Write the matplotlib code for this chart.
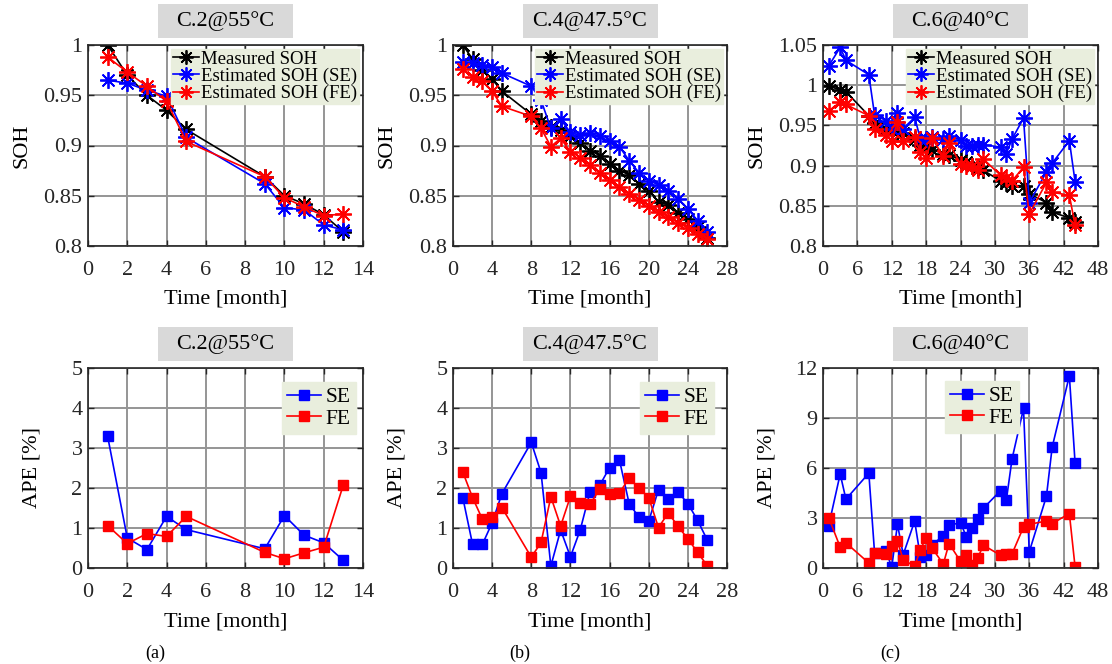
import matplotlib
matplotlib.use("Agg")
import matplotlib.pyplot as plt
from matplotlib.patches import Rectangle

plt.rcParams['font.family'] = ['Liberation Serif', 'DejaVu Serif']

# ---- data ----
c2_t = [1, 2, 3, 4, 5, 9, 10, 11, 12, 13]
c2_meas = [1.0, 0.970, 0.950, 0.935, 0.916, 0.869, 0.850, 0.842, 0.831, 0.814]
c2_se = [0.965, 0.962, 0.955, 0.949, 0.908, 0.862, 0.838, 0.836, 0.821, 0.816]
c2_fe = [0.988, 0.973, 0.959, 0.944, 0.904, 0.869, 0.848, 0.839, 0.830, 0.832]
c2_ape_se = [3.29, 0.75, 0.46, 1.29, 0.96, 0.48, 1.31, 0.82, 0.63, 0.19]
c2_ape_fe = [1.06, 0.61, 0.86, 0.79, 1.29, 0.39, 0.23, 0.38, 0.52, 2.08]

c4_t = [1, 2, 3, 4, 5, 8, 9, 10, 11, 12, 13, 14, 15, 16, 17, 18, 19, 20, 21,
        22, 23, 24, 25, 26]
c4_meas = [1.0, 0.986, 0.975, 0.966, 0.954, 0.931, 0.924, 0.918, 0.915, 0.909,
           0.902, 0.895, 0.890, 0.882, 0.875, 0.871, 0.862, 0.855, 0.844, 0.841,
           0.833, 0.827, 0.819, 0.808]
c4_se = [0.983, 0.982, 0.980, 0.978, 0.972, 0.959, 0.945, 0.917, 0.926, 0.913,
         0.910, 0.912, 0.909, 0.904, 0.899, 0.885, 0.873, 0.865, 0.861, 0.855,
         0.847, 0.837, 0.825, 0.814]
c4_fe = [0.976, 0.968, 0.964, 0.954, 0.939, 0.929, 0.917, 0.899, 0.907, 0.894,
         0.888, 0.881, 0.873, 0.866, 0.859, 0.852, 0.846, 0.840, 0.834, 0.829,
         0.823, 0.818, 0.812, 0.807]
c4_ape_se = [1.76, 0.59, 0.59, 1.13, 1.86, 3.14, 2.38, 0.05, 0.95, 0.28,
             0.95, 1.90, 2.07, 2.51, 2.71, 1.61, 1.27, 1.17, 1.96, 1.73,
             1.90, 1.61, 1.19, 0.69]
c4_ape_fe = [2.40, 1.76, 1.22, 1.27, 1.51, 0.27, 0.64, 1.78, 1.05, 1.79,
             1.62, 1.59, 1.98, 1.84, 1.88, 2.24, 2.00, 1.76, 1.01, 1.38,
             1.04, 0.73, 0.39, 0.05]

c6_t = [1, 3, 4, 8, 9, 11, 12, 13, 14, 16, 17, 18, 19, 21, 22, 24, 25, 26, 27,
        28, 31, 32, 33, 35, 36, 39, 40, 43, 44]
c6_meas = [0.999, 0.994, 0.992, 0.962, 0.953, 0.946, 0.944, 0.942, 0.940, 0.933,
           0.926, 0.923, 0.920, 0.915, 0.913, 0.907, 0.904, 0.900, 0.898, 0.894,
           0.881, 0.878, 0.875, 0.875, 0.865, 0.854, 0.842, 0.835, 0.830]
c6_se = [1.024, 1.047, 1.031, 1.013, 0.963, 0.956, 0.946, 0.965, 0.946, 0.960,
         0.933, 0.933, 0.935, 0.933, 0.937, 0.932, 0.925, 0.925, 0.926, 0.926,
         0.923, 0.915, 0.933, 0.959, 0.854, 0.892, 0.903, 0.931, 0.880]
c6_fe = [0.968, 0.979, 0.976, 0.962, 0.946, 0.938, 0.931, 0.954, 0.931, 0.935,
         0.917, 0.910, 0.934, 0.912, 0.928, 0.902, 0.899, 0.900, 0.894, 0.908,
         0.888, 0.885, 0.881, 0.898, 0.840, 0.879, 0.867, 0.863, 0.826]
c6_ape_se = [2.55, 5.64, 4.13, 5.69, 0.91, 1.00, 0.06, 2.62, 0.80, 2.82,
             0.64, 0.80, 1.41, 1.91, 2.56, 2.72, 1.89, 2.38, 2.92, 3.59,
             4.64, 4.07, 6.55, 9.57, 0.97, 4.30, 7.25, 11.53, 6.30]
c6_ape_fe = [3.02, 1.25, 1.51, 0.30, 0.91, 0.85, 1.31, 1.61, 0.50, 0.10,
             1.11, 1.81, 1.21, 0.24, 1.47, 0.40, 0.76, 0.20, 0.60, 1.37,
             0.76, 0.85, 0.85, 2.46, 2.62, 2.82, 2.66, 3.27, 0.06]

titles = ['C.2@55\u00b0C', 'C.4@47.5\u00b0C', 'C.6@40\u00b0C']
sublabels = ['(a)', '(b)', '(c)']
xticks = [[0, 2, 4, 6, 8, 10, 12, 14], [0, 4, 8, 12, 16, 20, 24, 28],
          [0, 6, 12, 18, 24, 30, 36, 42, 48]]
soh_ticks = [[0.8, 0.85, 0.9, 0.95, 1], [0.8, 0.85, 0.9, 0.95, 1],
             [0.8, 0.85, 0.9, 0.95, 1, 1.05]]
soh_ticklabels = [['0.8', '0.85', '0.9', '0.95', '1'],
                  ['0.8', '0.85', '0.9', '0.95', '1'],
                  ['0.8', '0.85', '0.9', '0.95', '1', '1.05']]
ape_ticks = [[0, 1, 2, 3, 4, 5], [0, 1, 2, 3, 4, 5], [0, 3, 6, 9, 12]]

W, H = 1112, 664
LEG_BG = '#e9eedd'
GRID_C = '#959595'
AST = (8, 2, 0)  # matlab style asterisk


def px_axes(fig, x0, y0, x1, y1):
    # pixel box (top-left origin) -> figure fraction
    return fig.add_axes([x0 / W, 1 - y1 / H, (x1 - x0) / W, (y1 - y0) / H])


def style_axes(ax, xt, xmax):
    ax.set_xlim(0, xmax)
    ax.set_xticks(xt)
    ax.grid(True, color=GRID_C, linewidth=1.4)
    ax.set_axisbelow(True)
    for s in ax.spines.values():
        s.set_color('#262626')
        s.set_linewidth(1.2)
    ax.tick_params(direction='in', top=True, right=True, labelsize=16,
                   length=4, width=1, colors='#262626')
    ax.tick_params(axis='x', pad=11)
    ax.tick_params(axis='y', pad=4)
    ax.set_xlabel('Time [month]', fontsize=16, labelpad=7)


def title_box(fig, xc, ytop, text):
    bw, bh = 135, 34
    fig.patches.append(Rectangle(((xc - bw / 2) / W, 1 - (ytop + bh) / H),
                                 bw / W, bh / H, transform=fig.transFigure,
                                 facecolor='#d9d9d9', edgecolor='none'))
    fig.text(xc / W, 1 - (ytop + bh / 2) / H, text, ha='center', va='center',
             fontsize=16)


def main():
    fig = plt.figure(figsize=(W / 100, H / 100), dpi=100)
    cols = [(88, 363), (453, 727), (823, 1098)]
    xmaxes = [14, 28, 48]
    soh_ylim = [(0.8, 1.0), (0.8, 1.0), (0.8, 1.05)]
    ape_ylim = [(0, 5), (0, 5), (0, 12)]
    data = [(c2_t, c2_meas, c2_se, c2_fe, c2_ape_se, c2_ape_fe),
            (c4_t, c4_meas, c4_se, c4_fe, c4_ape_se, c4_ape_fe),
            (c6_t, c6_meas, c6_se, c6_fe, c6_ape_se, c6_ape_fe)]
    ape_leg_anchor = [(0.975, 0.93), (0.953, 0.93), (0.713, 0.935)]
    sub_x = [155, 520, 890]

    for i, (x0, x1) in enumerate(cols):
        t, meas, se, fe, ape_se, ape_fe = data[i]

        # SOH panel
        ax = px_axes(fig, x0, 45, x1, 246)
        ax.plot(t, meas, color='k', marker=AST, markersize=12, mew=1.3,
                linewidth=1.2, label='Measured SOH')
        ax.plot(t, se, color='#0000ff', marker=AST, markersize=12, mew=1.3,
                linewidth=1.2, label='Estimated SOH (SE)')
        ax.plot(t, fe, color='#ff0000', marker=AST, markersize=12, mew=1.3,
                linewidth=1.2, label='Estimated SOH (FE)')
        style_axes(ax, xticks[i], xmaxes[i])
        ax.set_ylim(*soh_ylim[i])
        ax.set_yticks(soh_ticks[i])
        ax.set_yticklabels(soh_ticklabels[i])
        ax.set_ylabel('SOH', fontsize=16)
        ax.yaxis.set_label_coords(-0.205, 0.5)
        ax.legend(loc='upper right', fontsize=13.5, frameon=True,
                  facecolor=LEG_BG, edgecolor=LEG_BG, framealpha=1,
                  fancybox=False, borderpad=0.1, labelspacing=0.0,
                  handlelength=1.4, handletextpad=0.1,
                  borderaxespad=0.2, markerscale=0.85)
        title_box(fig, (x0 + x1) / 2, 4, titles[i])

        # APE panel
        ax2 = px_axes(fig, x0, 368, x1, 568)
        ax2.plot(t, ape_se, color='#0000ff', marker='s', markersize=7,
                 linewidth=1.2, label='SE')
        ax2.plot(t, ape_fe, color='#ff0000', marker='s', markersize=7,
                 linewidth=1.2, label='FE')
        style_axes(ax2, xticks[i], xmaxes[i])
        ax2.set_ylim(*ape_ylim[i])
        ax2.set_yticks(ape_ticks[i])
        ax2.set_ylabel('APE [%]', fontsize=16)
        ax2.yaxis.set_label_coords(-0.17, 0.5)
        ax2.legend(loc='upper right', bbox_to_anchor=ape_leg_anchor[i],
                   fontsize=15.5, frameon=True, facecolor=LEG_BG,
                   edgecolor=LEG_BG, framealpha=1, fancybox=False,
                   borderpad=0.25, labelspacing=0.05, handlelength=1.6,
                   handletextpad=0.2, borderaxespad=0)
        title_box(fig, (x0 + x1) / 2, 327, titles[i])

        fig.text(sub_x[i] / W, 1 - 653 / H, sublabels[i], ha='center',
                 va='center', fontsize=13)

    fig.savefig('out.png', dpi=100, facecolor='white')
    plt.close(fig)


if __name__ == "__main__":
    main()
